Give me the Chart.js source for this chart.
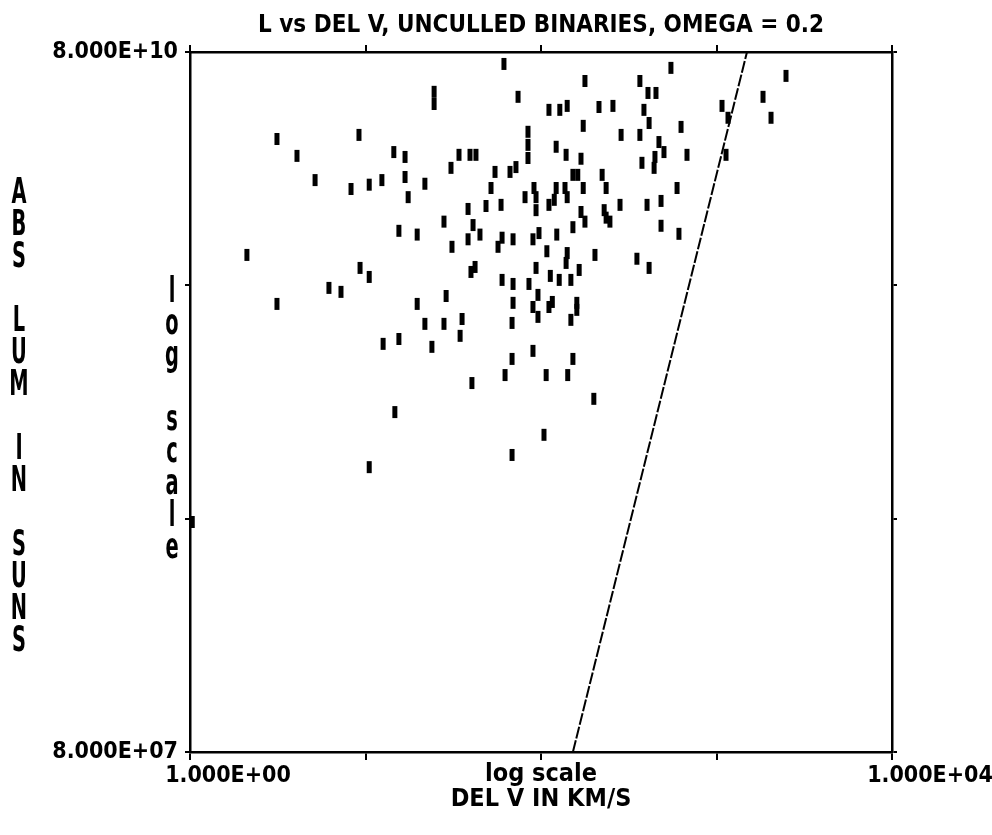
<!DOCTYPE html>
<html>
<head>
<meta charset="utf-8">
<title>L vs DEL V, uncull binaries</title>
<script src="https://cdn.jsdelivr.net/npm/chart.js@4.4.1/dist/chart.umd.min.js"></script>
<style>
  html, body { margin: 0; padding: 0; background: #fff; }
  #wrap { position: relative; width: 992px; height: 835px; }
</style>
</head>
<body>
<div id="wrap"><canvas id="lumchart"></canvas></div>
<script>
// DEL V in km/s (same order as absLum)
const delV = [
  61.5, 178, 24.6, 24.6, 74.0, 111, 128, 141, 214, 174,
  3.13, 9.18, 84.3, 84.3, 84.3, 4.07, 14.5, 16.8, 16.8, 34.1,
  39.4, 42.6, 122, 139, 169, 5.16, 8.27, 10.5, 12.4, 17.5,
  21.8, 30.7, 54.7, 66.6, 72.0, 152, 162, 51.9, 91.2, 81.1,
  93.7, 93.7, 122, 137, 141, 174, 38.4, 48.6, 59.2, 111,
  119, 28.0, 15.5, 19.7, 41.0, 44.9, 38.4, 31.1, 56.9, 60.0,
  69.3, 90.0, 97.4, 123, 108, 169, 178, 152, 2.11, 203,
  141, 139, 9.31, 10.5, 39.9, 42.1, 93.7, 6.19, 7.25, 60.0,
  69.3, 85.4, 113, 127, 148, 165, 3.13, 19.7, 28.8, 69.3,
  96.1, 90.0, 96.1, 116, 111, 160, 160, 148, 21.8, 28.0,
  35.5, 68.4, 34.6, 15.5, 12.6, 550, 366, 407, 452, 257,
  386, 413, 628, 286, 366, 470, 502, 679, 376, 446,
  441, 223, 235, 596, 282, 402, 483, 229, 247, 235,
  483, 611, 352, 413, 1075, 1163, 1133, 1841, 2489, 2045,
  23.9, 68.4, 90.0, 152, 62.4, 107, 142, 40.4, 200, 14.7,
  104, 68.4, 10.5, 1.03
];

// ABS LUM in suns
const absLum = [
  7.11e10, 6.01e10, 5.40e10, 4.79e10, 5.14e10, 4.52e10, 4.52e10, 4.70e10, 4.65e10, 3.86e10,
  3.39e10, 3.53e10, 3.64e10, 3.20e10, 2.81e10, 2.87e10, 2.98e10, 2.84e10, 2.33e10, 2.90e10,
  2.90e10, 2.90e10, 3.14e10, 2.90e10, 2.79e10, 2.26e10, 2.07e10, 2.16e10, 2.26e10, 1.91e10,
  2.18e10, 2.55e10, 2.45e10, 2.45e10, 2.57e10, 2.38e10, 2.38e10, 2.09e10, 2.09e10, 1.91e10,
  1.91e10, 1.68e10, 2.09e10, 2.09e10, 1.91e10, 2.09e10, 1.70e10, 1.75e10, 1.77e10, 1.77e10,
  1.86e10, 1.50e10, 1.37e10, 1.32e10, 1.45e10, 1.32e10, 1.26e10, 1.17e10, 1.17e10, 1.28e10,
  1.26e10, 1.26e10, 1.34e10, 1.32e10, 1.12e10, 1.65e10, 1.50e10, 1.42e10, 1.08e10, 1.08e10,
  1.10e10, 9.98e9, 9.50e9, 8.69e9, 9.13e9, 9.59e9, 9.50e9, 7.80e9, 7.50e9, 8.44e9,
  8.11e9, 8.11e9, 8.78e9, 8.44e9, 8.44e9, 9.31e9, 6.66e9, 6.66e9, 7.20e9, 6.73e9,
  7.28e9, 6.46e9, 5.86e9, 6.79e9, 6.46e9, 6.73e9, 6.28e9, 5.69e9, 5.47e9, 5.47e9,
  5.74e9, 5.52e9, 4.86e9, 4.71e9, 4.49e9, 6.84e10, 6.01e10, 5.34e10, 5.34e10, 4.70e10,
  4.52e10, 3.97e10, 3.82e10, 3.53e10, 3.53e10, 3.29e10, 2.98e10, 2.90e10, 2.68e10, 2.84e10,
  2.55e10, 2.38e10, 2.09e10, 2.09e10, 1.77e10, 1.77e10, 1.84e10, 1.68e10, 1.50e10, 1.56e10,
  1.44e10, 1.33e10, 1.04e10, 9.50e9, 4.70e10, 4.18e10, 2.90e10, 5.14e10, 6.32e10, 4.18e10,
  4.36e9, 3.87e9, 4.19e9, 3.87e9, 3.30e9, 3.30e9, 3.30e9, 3.05e9, 2.61e9, 2.29e9,
  1.83e9, 1.50e9, 1.33e9, 7.74e8
];

// the straight cut line, end points
const cutV = [152, 1492];
const cutL = [8e7, 8e10];

// axis ticks
const xTicks = [1, 10, 100, 1000, 10000];
const xTickLabels = ['1.000E+00', '', '', '', '1.000E+04'];
const yTicks = [8e7, 8e8, 8e9, 8e10];
const yTickLabels = ['8.000E+07', '', '', '8.000E+10'];

const FONT = "'DejaVu Sans Condensed', 'Liberation Sans Narrow', sans-serif";

const points = delV.map((v, i) => ({ x: v, y: absLum[i] }));
const cutLine = cutV.map((v, i) => ({ x: v, y: cutL[i] }));

function setTicks(values) {
  return function(scale) {
    scale.ticks = values.map(v => ({ value: v }));
  };
}

function tickGrid(len) {
  return { drawOnChartArea: false, drawTicks: true, tickLength: len, color: '#000', lineWidth: 2 };
}
const axisBorder = { display: true, color: '#000', width: 2.5 };
const tickFont = { family: FONT, size: 23, weight: 'bold', lineHeight: 1 };
const titleFont = { family: FONT, size: 25, weight: 'bold', lineHeight: 1 };

// letters stacked one under the other, like the old plotter did it
function drawStacked(ctx, text, x, y0, step) {
  [...text].forEach((ch, i) => {
    if (ch === ' ') return;
    ctx.save();
    ctx.translate(x, y0 + i * step);
    ctx.scale(0.6, 1);
    ctx.fillText(ch, 0, 0);
    ctx.restore();
  });
}

const stackedLabels = {
  id: 'stackedLabels',
  afterDraw(chart) {
    const ctx = chart.ctx;
    const area = chart.chartArea;
    ctx.save();
    ctx.fillStyle = '#000';
    ctx.font = 'bold 36px ' + FONT;
    ctx.textAlign = 'center';
    ctx.textBaseline = 'alphabetic';
    drawStacked(ctx, 'ABS LUM IN SUNS', 19, 203, 32);
    drawStacked(ctx, 'log scale', area.left - 18, 302, 32);
    ctx.restore();
  }
};

Chart.defaults.color = '#000';

new Chart(document.getElementById('lumchart'), {
  type: 'scatter',
  data: {
    datasets: [
      {
        label: 'binaries',
        data: points,
        pointStyle: 'line',
        pointRotation: 90,
        pointRadius: 6,
        pointHoverRadius: 6,
        pointBorderWidth: 5,
        pointBorderColor: '#000',
        pointBackgroundColor: '#000',
        clip: false
      },
      {
        label: 'cut',
        data: cutLine,
        showLine: true,
        pointRadius: 0,
        borderColor: '#000',
        borderWidth: 2,
        borderDash: [12, 2]
      }
    ]
  },
  options: {
    responsive: true,
    maintainAspectRatio: false,
    animation: false,
    layout: { padding: 0 },
    plugins: {
      legend: { display: false },
      tooltip: { enabled: false },
      title: {
        display: true,
        fullSize: false,
        text: 'L vs DEL V, UNCULLED BINARIES, OMEGA = 0.2',
        color: '#000',
        font: { family: FONT, size: 24, weight: 'bold', lineHeight: 1 },
        padding: { top: 14, bottom: 0 }
      }
    },
    scales: {
      x: {
        type: 'logarithmic',
        position: 'bottom',
        min: 1,
        max: 10000,
        afterBuildTicks: setTicks(xTicks),
        afterFit: s => { s.height = 83; },
        grid: tickGrid(8),
        border: axisBorder,
        ticks: {
          autoSkip: false,
          maxRotation: 0,
          labelOffset: 38,
          padding: 5,
          font: tickFont,
          callback: (v, i) => xTickLabels[i]
        },
        title: {
          display: true,
          text: ['log scale', 'DEL V IN KM/S'],
          font: titleFont,
          padding: { top: 0, bottom: 23 }
        }
      },
      xTop: {
        axis: 'x',
        type: 'logarithmic',
        position: 'top',
        min: 1,
        max: 10000,
        afterBuildTicks: setTicks(xTicks),
        afterFit: s => { s.height = 14; },
        grid: tickGrid(7),
        border: axisBorder,
        ticks: { callback: () => '' }
      },
      y: {
        type: 'logarithmic',
        position: 'left',
        min: 8e7,
        max: 8e10,
        afterBuildTicks: setTicks(yTicks),
        afterFit: s => { s.width = 190; },
        grid: tickGrid(5),
        border: axisBorder,
        ticks: {
          padding: 7,
          font: tickFont,
          callback: (v, i) => yTickLabels[i]
        }
      },
      yRight: {
        axis: 'y',
        type: 'logarithmic',
        position: 'right',
        min: 8e7,
        max: 8e10,
        afterBuildTicks: setTicks(yTicks),
        afterFit: s => { s.width = 100; },
        grid: tickGrid(5),
        border: axisBorder,
        ticks: { callback: () => '' }
      }
    }
  },
  plugins: [stackedLabels]
});
</script>
</body>
</html>
